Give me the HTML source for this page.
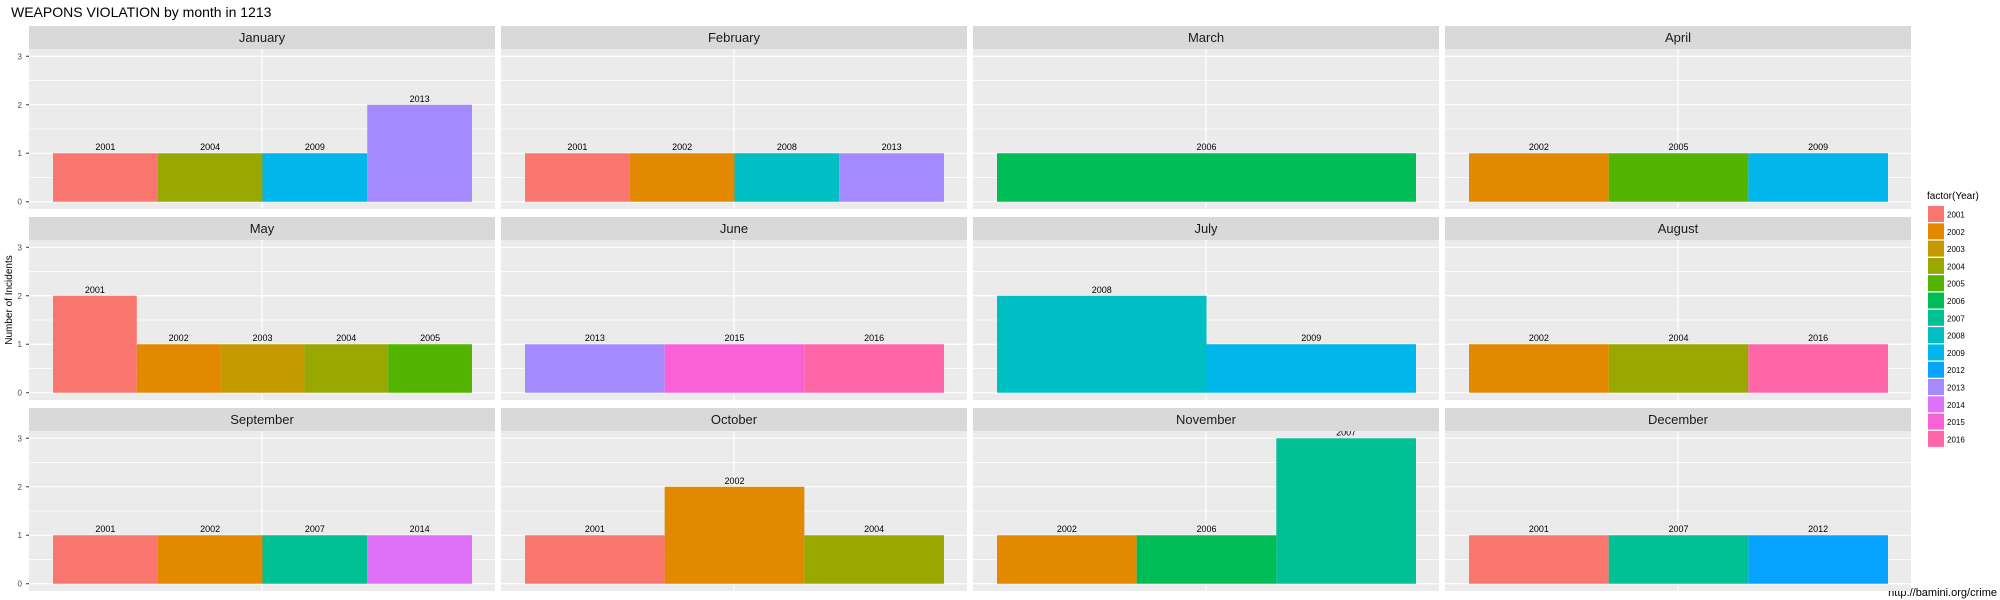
<!DOCTYPE html>
<html><head><meta charset="utf-8"><style>
body{margin:0;background:#fff;}
svg{display:block;font-family:"Liberation Sans",Arial,sans-serif;}
</style></head><body>
<svg id="chart" width="2000" height="600">
<text x="11" y="17" font-size="14" fill="#000">WEAPONS VIOLATION by month in 1213</text>
<text transform="translate(12,300) rotate(-90)" text-anchor="middle" font-size="10" fill="#000">Number of Incidents</text>
<text x="1997" y="596" text-anchor="end" font-size="11" fill="#000">http://bamini.org/crime</text>
</svg>
<script>
const months = ["January","February","March","April","May","June","July","August","September","October","November","December"];
const monthYears = [
 ["2001","2004","2009","2013"],
 ["2001","2002","2008","2013"],
 ["2006"],
 ["2002","2005","2009"],
 ["2001","2002","2003","2004","2005"],
 ["2013","2015","2016"],
 ["2008","2009"],
 ["2002","2004","2016"],
 ["2001","2002","2007","2014"],
 ["2001","2002","2004"],
 ["2002","2006","2007"],
 ["2001","2007","2012"]
];
const monthCounts = [
 [1,1,1,2],
 [1,1,1,1],
 [1],
 [1,1,1],
 [2,1,1,1,1],
 [1,1,1],
 [2,1],
 [1,1,1],
 [1,1,1,1],
 [1,2,1],
 [1,1,3],
 [1,1,1]
];
const legendYears = ["2001","2002","2003","2004","2005","2006","2007","2008","2009","2012","2013","2014","2015","2016"];
const yearColors = ["#F8766D","#E38900","#C49A00","#99A800","#53B400","#00BC56","#00C094","#00BFC4","#00B6EB","#06A4FF","#A58AFF","#DF70F8","#FB61D7","#FF66A8"];
const yTicks = [0,1,2,3];

const NS="http://www.w3.org/2000/svg";
const svg=document.getElementById('chart');
function mk(tag,attrs,parent){const e=document.createElementNS(NS,tag);for(const k in attrs)e.setAttribute(k,attrs[k]);(parent||svg).appendChild(e);return e;}
const colX0=[29,501,973,1445], panelW=466;
const rowStripTop=[26,217,408], stripH=23, panelH=160;
const yMin=-0.15, yMax=3.15;
for(let m=0;m<12;m++){
  const c=m%4, r=Math.floor(m/4);
  const x0=colX0[c], sTop=rowStripTop[r], pTop=sTop+stripH;
  const yS=v=>pTop+panelH-(v-yMin)/(yMax-yMin)*panelH;
  const g=mk('g',{});
  
  
  const strip=mk('rect',{x:x0,y:sTop,width:panelW,height:stripH,fill:'#D9D9D9'},g);
  
  
  const st=mk('text',{x:x0+panelW/2,y:sTop+16,'text-anchor':'middle','font-size':13,fill:'#1A1A1A'},g);
  st.textContent=months[m];
  
  
  const bg=mk('rect',{x:x0,y:pTop,width:panelW,height:panelH,fill:'#EBEBEB'},g);
  
  
  [0.5,1.5,2.5].forEach(v=>mk('line',{x1:x0,x2:x0+panelW,y1:yS(v),y2:yS(v),stroke:'#fff','stroke-width':0.7},g));
  yTicks.forEach(v=>mk('line',{x1:x0,x2:x0+panelW,y1:yS(v),y2:yS(v),stroke:'#fff','stroke-width':1.3},g));
  mk('line',{x1:x0+panelW/2,x2:x0+panelW/2,y1:pTop,y2:pTop+panelH,stroke:'#fff','stroke-width':1.3},g);
  if(c===0){
    yTicks.forEach(v=>{
      const t=mk('text',{x:22,y:yS(v)+3,'text-anchor':'end','font-size':8,fill:'#4D4D4D'});
      t.textContent=v;
      
      
      mk('line',{x1:26,x2:29,y1:yS(v),y2:yS(v),stroke:'#333','stroke-width':1});
    });
  }
  const cid='clip'+m;
  const cp=mk('clipPath',{id:cid},g);mk('rect',{x:x0,y:pTop,width:panelW,height:panelH},cp);
  const bl=mk('g',{'clip-path':'url(#'+cid+')'},g);
  const yrs=monthYears[m], cnt=monthCounts[m], n=yrs.length;
  const bx0=x0+24, bw=(panelW-47)/n;
  for(let i=0;i<n;i++){
    const col=yearColors[legendYears.indexOf(yrs[i])];
    const b=mk('rect',{x:bx0+i*bw,y:yS(cnt[i]),width:bw,height:yS(0)-yS(cnt[i]),fill:col},bl);
    
    
    const t=mk('text',{x:bx0+(i+0.5)*bw,y:yS(cnt[i])-3,'text-anchor':'middle','font-size':9,fill:'#000'},bl);
    t.textContent=yrs[i];
    
    
  }
}
const lt=mk('text',{x:1927,y:199,'font-size':10,fill:'#000'});
lt.textContent='factor(Year)';


legendYears.forEach((y,i)=>{
  const top=206+i*17.3;
  const r=mk('rect',{x:1928,y:top,width:16,height:16,fill:yearColors[i]});
  
  
  const t=mk('text',{x:1947,y:top+11.5,'font-size':8,fill:'#000'});
  t.textContent=y;
  
  
});
</script>
</body></html>
